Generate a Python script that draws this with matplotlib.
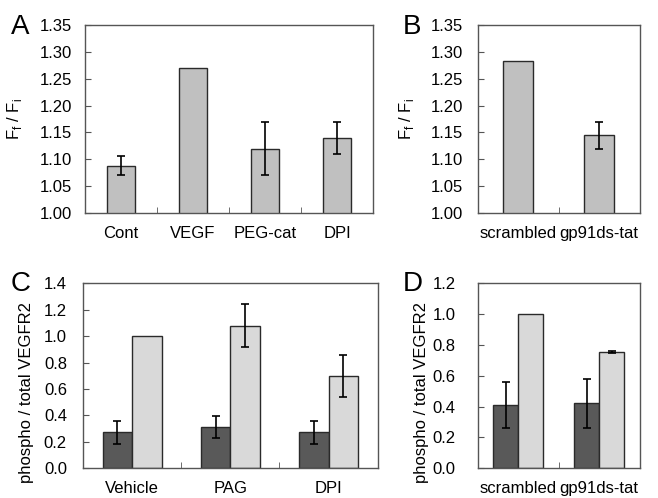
import numpy as np
import matplotlib
matplotlib.use("Agg")
import matplotlib.pyplot as plt

plt.rcParams["font.family"] = ["Liberation Sans", "DejaVu Sans"]

# panel A
a_labels = ["Cont", "VEGF", "PEG-cat", "DPI"]
a_vals = [1.088, 1.270, 1.120, 1.140]
a_err = [0.018, 0.0, 0.050, 0.030]

# panel B
b_labels = ["scrambled", "gp91ds-tat"]
b_vals = [1.282, 1.145]
b_err = [0.0, 0.025]

# panel C
c_labels = ["Vehicle", "PAG", "DPI"]
c_dark = [0.27, 0.31, 0.27]
c_dark_err = [0.09, 0.085, 0.09]
c_light = [1.00, 1.08, 0.70]
c_light_err = [0.0, 0.16, 0.16]

# panel D
d_labels = ["scrambled", "gp91ds-tat"]
d_dark = [0.41, 0.42]
d_dark_err = [0.15, 0.16]
d_light = [1.00, 0.755]
d_light_err = [0.0, 0.008]

SPINE = "#555555"
EDGE = "#2a2a2a"
TICKFS = 12


def style_axes(ax, n, ypad):
    for s in ax.spines.values():
        s.set_color(SPINE)
        s.set_linewidth(1.0)
    ax.set_xlim(-0.5, n - 0.5)
    ax.set_xticks(np.arange(n))
    ax.tick_params(axis="x", length=0, pad=9, labelsize=TICKFS)
    ax.set_xticks(np.arange(n - 1) + 0.5, minor=True)
    ax.tick_params(axis="x", which="minor", direction="in", length=4, color=SPINE)
    ax.tick_params(axis="y", direction="in", length=4, color=SPINE,
                   labelsize=TICKFS, pad=ypad)


def panel_letter(fig, x, y, s):
    fig.text(x, y, s, fontsize=20, ha="left", va="top")


fig = plt.figure(figsize=(6.58, 4.98), dpi=100)

ff_label = r"F$_\mathregular{f}$ / F$_\mathregular{i}$"

axA = fig.add_axes([0.129, 0.572, 0.438, 0.378])
x = np.arange(len(a_labels))
axA.bar(x, a_vals, width=0.39, color="#c0c0c0", edgecolor=EDGE, linewidth=1.0)
mask = np.array(a_err) > 0
axA.errorbar(x[mask], np.array(a_vals)[mask], yerr=np.array(a_err)[mask],
             fmt="none", ecolor="black", capsize=3, elinewidth=1.2, capthick=1.2)
axA.set_ylim(1.0, 1.35)
ticks = np.arange(1.0, 1.351, 0.05)
axA.set_yticks(ticks)
axA.set_yticklabels([f"{v:.2f}" for v in ticks])
style_axes(axA, len(a_labels), 9.4)
axA.set_xticklabels(a_labels)
axA.set_ylabel(ff_label, fontsize=12)
axA.yaxis.set_label_coords(-0.212, 0.5)

axB = fig.add_axes([0.726, 0.572, 0.246, 0.378])
x = np.arange(len(b_labels))
axB.bar(x, b_vals, width=0.37, color="#c0c0c0", edgecolor=EDGE, linewidth=1.0)
axB.errorbar(x[1:], b_vals[1:], yerr=b_err[1:], fmt="none", ecolor="black",
             capsize=3, elinewidth=1.2, capthick=1.2)
axB.set_ylim(1.0, 1.35)
axB.set_yticks(ticks)
axB.set_yticklabels([f"{v:.2f}" for v in ticks])
style_axes(axB, len(b_labels), 10.8)
axB.set_xticklabels(b_labels)
axB.set_ylabel(ff_label, fontsize=12)
axB.yaxis.set_label_coords(-0.38, 0.5)


def grouped(ax, labels, dark, dark_err, light, light_err, w, ymax, step, ypad):
    x = np.arange(len(labels))
    ax.bar(x - w / 2, dark, width=w, color="#595959", edgecolor=EDGE, linewidth=1.0)
    ax.bar(x + w / 2, light, width=w, color="#d9d9d9", edgecolor=EDGE, linewidth=1.0)
    ax.errorbar(x - w / 2, dark, yerr=dark_err, fmt="none", ecolor="black",
                capsize=3, elinewidth=1.2, capthick=1.2)
    le = np.array(light_err)
    m = le > 0
    ax.errorbar((x + w / 2)[m], np.array(light)[m], yerr=le[m], fmt="none",
                ecolor="black", capsize=3, elinewidth=1.2, capthick=1.2)
    ax.set_ylim(0, ymax)
    yt = np.arange(0, ymax + 1e-6, step)
    ax.set_yticks(yt)
    ax.set_yticklabels([f"{v:.1f}" for v in yt])
    style_axes(ax, len(labels), ypad)
    ax.set_xticklabels(labels)
    ax.set_ylabel("phospho / total VEGFR2", fontsize=12)


axC = fig.add_axes([0.126, 0.060, 0.448, 0.371])
grouped(axC, c_labels, c_dark, c_dark_err, c_light, c_light_err, 0.30, 1.4, 0.2, 11.5)
axC.yaxis.set_label_coords(-0.165, 0.41)

axD = fig.add_axes([0.726, 0.060, 0.246, 0.371])
grouped(axD, d_labels, d_dark, d_dark_err, d_light, d_light_err, 0.31, 1.2, 0.2, 16)
axD.yaxis.set_label_coords(-0.30, 0.41)

panel_letter(fig, 0.016, 0.972, "A")
panel_letter(fig, 0.612, 0.972, "B")
panel_letter(fig, 0.016, 0.456, "C")
panel_letter(fig, 0.612, 0.456, "D")

fig.savefig("out.png", dpi=100)
